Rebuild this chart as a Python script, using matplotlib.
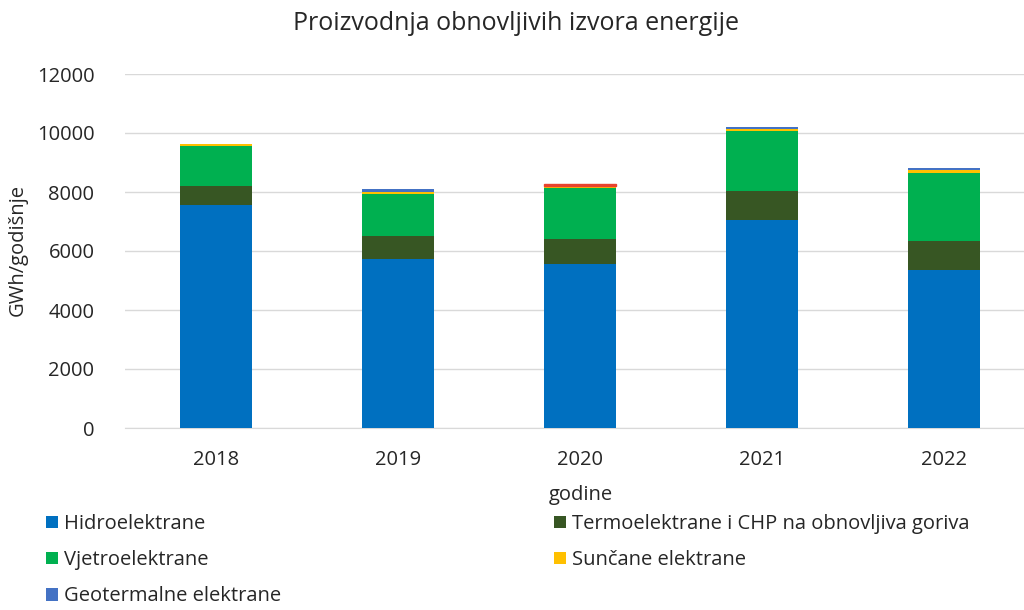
import matplotlib.pyplot as plt
import numpy as np

years = ['2018', '2019', '2020', '2021', '2022']
hidro = [7570, 5730, 5560, 7050, 5360]
termo = [630, 780, 850, 980, 980]
vjetro = [1360, 1420, 1730, 2040, 2300]
suncane = [70, 70, 70, 70, 100]
geoterm = [0, 100, 70, 70, 70]

labels = ['Hidroelektrane', 'Termoelektrane i CHP na obnovljiva goriva',
          'Vjetroelektrane', 'Sunčane elektrane', 'Geotermalne elektrane']
colors = ['#0070C0', '#375623', '#00B050', '#FFC000', '#4472C4']

plt.rcParams['font.family'] = ['Open Sans', 'DejaVu Sans']
txt = '#262626'

fig = plt.figure(figsize=(10.24, 6.1), dpi=100)
ax = fig.add_axes([125 / 1024, 182 / 610, 910 / 1024, 354 / 610])

x = np.arange(len(years))
series = [hidro, termo, vjetro, suncane, geoterm]
bottom = np.zeros(len(years))
bars = []
for vals, lab, col in zip(series, labels, colors):
    b = ax.bar(x, vals, 0.4, bottom=bottom, color=col, label=lab, zorder=3)
    bars.append(b)
    bottom += np.array(vals)

# 2020 geothermal segment is drawn in red in the original
bars[4].patches[2].set_color('#E8432E')

ax.set_xlim(-0.5, 4.5)
ax.set_ylim(0, 12000)
ax.set_yticks(range(0, 12001, 2000))
ax.set_xticks(x)
ax.set_xticklabels(years)
ax.tick_params(length=0, labelsize=14.5, colors=txt)
ax.tick_params(axis='x', pad=16)
ax.tick_params(axis='y', pad=22)
ax.grid(axis='y', color='#D9D9D9', linewidth=1, zorder=0)
for s in ['top', 'right', 'left']:
    ax.spines[s].set_visible(False)
ax.spines['bottom'].set_color('#D9D9D9')

fig.text(516 / 1024, 1 - 23 / 610, 'Proizvodnja obnovljivih izvora energije',
         ha='center', va='center', fontsize=18, color=txt)
fig.text(581 / 1024, 1 - 495 / 610, 'godine', ha='center', va='center',
         fontsize=14.5, color=txt)
fig.text(18 / 1024, 1 - 250 / 610, 'GWh/godišnje', ha='center', va='center',
         rotation=90, fontsize=14.5, color=txt)

h = bars
leg_kw = dict(loc='upper left', frameon=False, fontsize=14.5, handlelength=0.6,
              handleheight=0.6, handletextpad=0.3, labelspacing=0.8,
              labelcolor=txt, borderaxespad=0)
fig.legend([h[0], h[2], h[4]], [labels[0], labels[2], labels[4]],
           bbox_to_anchor=(38 / 1024, 1 - 506 / 610), **leg_kw)
fig.legend([h[1], h[3]], [labels[1], labels[3]],
           bbox_to_anchor=(546 / 1024, 1 - 506 / 610), **leg_kw)

fig.savefig('out.png', dpi=100)
